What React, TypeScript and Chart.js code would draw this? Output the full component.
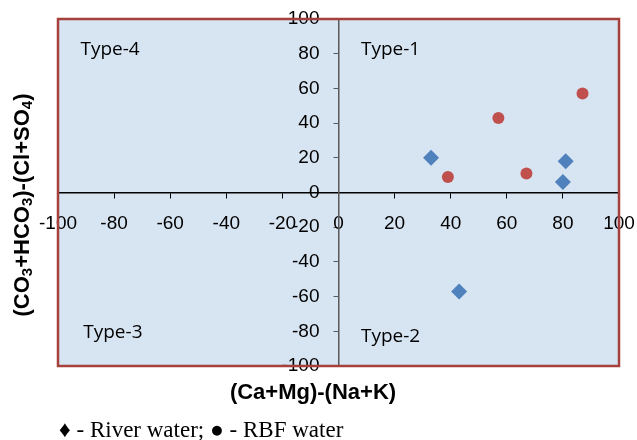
import React, { useEffect, useRef } from "react";
import { Chart, registerables } from "chart.js";

Chart.register(...registerables);

const riverX = [33, 81, 80, 43];
const riverY = [20, 18, 6, -57];
const rbfX = [39, 57, 67, 87];
const rbfY = [9, 43, 11, 57];
const axisMin = -100;
const axisMax = 100;
const axisStep = 20;
const xTitle = "(Ca+Mg)-(Na+K)";
const yTitleParts: { t: string; sub?: boolean }[] = [
  { t: "(CO" },
  { t: "3", sub: true },
  { t: "+HCO" },
  { t: "3", sub: true },
  { t: ")-(Cl+SO" },
  { t: "4", sub: true },
  { t: ")" },
];
const typeLabels = [
  { text: "Type-4", x: -92, y: 79 },
  { text: "Type-1", x: 8, y: 79 },
  { text: "Type-3", x: -91, y: -84 },
  { text: "Type-2", x: 8, y: -86 },
];
const legendText = "\u2666 - River water; \u25CF - RBF water";

const BG = "#d7e4f2";
const BORDER = "#a5403d";

const zeroPad = (s: any) => {
  s.paddingLeft = 0;
  s.paddingRight = 0;
  s.paddingTop = 0;
  s.paddingBottom = 0;
};

const decorPlugin = {
  id: "decor",
  afterLayout(chart: any) {
    const c = chart.scales.x.getPixelForValue(0);
    chart.scales.y.left = c - 70;
    chart.scales.y.right = c;
  },
  beforeDraw(chart: any) {
    const { ctx, chartArea: a } = chart;
    ctx.save();
    ctx.fillStyle = BG;
    ctx.fillRect(a.left, a.top, a.right - a.left, a.bottom - a.top);
    ctx.restore();
  },
  beforeDatasetsDraw(chart: any) {
    const { ctx, chartArea: a, scales } = chart;
    ctx.save();
    ctx.strokeStyle = BORDER;
    ctx.lineWidth = 2.5;
    ctx.strokeRect(a.left, a.top, a.right - a.left, a.bottom - a.top);
    ctx.fillStyle = "#000";
    ctx.font = "19px 'Open Sans'";
    ctx.textBaseline = "alphabetic";
    ctx.textAlign = "left";
    for (const l of typeLabels) {
      ctx.fillText(l.text, scales.x.getPixelForValue(l.x), scales.y.getPixelForValue(l.y));
    }
    ctx.restore();
  },
  afterDraw(chart: any) {
    const { ctx } = chart;
    ctx.save();
    ctx.fillStyle = "#000";
    ctx.font = "bold 22px 'Liberation Sans', Arial";
    ctx.textAlign = "center";
    ctx.textBaseline = "middle";
    ctx.fillText(xTitle, 313, 393);
    const mainFont = "bold 22px 'Liberation Sans', Arial";
    const subFont = "bold 15px 'Liberation Sans', Arial";
    let total = 0;
    for (const p of yTitleParts) {
      ctx.font = p.sub ? subFont : mainFont;
      total += ctx.measureText(p.t).width;
    }
    ctx.translate(23, 205);
    ctx.rotate(-Math.PI / 2);
    ctx.textAlign = "left";
    ctx.textBaseline = "middle";
    let cx = -total / 2;
    for (const p of yTitleParts) {
      ctx.font = p.sub ? subFont : mainFont;
      ctx.fillText(p.t, cx, p.sub ? 5 : 0);
      cx += ctx.measureText(p.t).width;
    }
    ctx.setTransform(1, 0, 0, 1, 0, 0);
    ctx.font = "23px 'Liberation Serif', 'Times New Roman', serif";
    ctx.textAlign = "left";
    ctx.textBaseline = "alphabetic";
    ctx.fillText(legendText, 59, 437);
    ctx.restore();
  },
};

export default function App() {
  const ref = useRef<HTMLCanvasElement>(null);
  useEffect(() => {
    if (!ref.current) return;
    const tickFont = { family: "'Liberation Sans', Arial", size: 19 };
    const chart = new Chart(ref.current, {
      type: "scatter",
      data: {
        datasets: [
          {
            label: "River water",
            data: riverX.map((x, i) => ({ x, y: riverY[i] })),
            pointStyle: "rectRot",
            pointRadius: 8,
            backgroundColor: "#4f81bd",
            borderColor: "#4f81bd",
            borderWidth: 0,
          },
          {
            label: "RBF water",
            data: rbfX.map((x, i) => ({ x, y: rbfY[i] })),
            pointStyle: "circle",
            pointRadius: 6,
            backgroundColor: "#c0504d",
            borderColor: "#c0504d",
            borderWidth: 0,
          },
        ],
      },
      options: {
        responsive: false,
        animation: false,
        layout: { padding: { left: 58, top: 19, right: 18, bottom: 74 } },
        plugins: { legend: { display: false }, tooltip: { enabled: false } },
        scales: {
          x: {
            type: "linear",
            min: axisMin,
            max: axisMax,
            position: { y: 0 } as any,
            afterFit: (s: any) => {
              s.height = 0;
              zeroPad(s);
            },
            ticks: { stepSize: axisStep, font: tickFont, color: "#000", padding: 15 },
            grid: { drawOnChartArea: false, drawTicks: true, tickLength: 5, color: "#000" },
            border: { display: true, color: "#000", width: 1.5 },
          },
          y: {
            type: "linear",
            min: axisMin,
            max: axisMax,
            position: "left",
            afterFit: (s: any) => {
              s.width = 0;
              zeroPad(s);
            },
            ticks: { stepSize: axisStep, font: tickFont, color: "#000", padding: 14 },
            grid: { drawOnChartArea: false, drawTicks: true, tickLength: 5, color: "#595959" },
            border: { display: true, color: "#595959", width: 1.5 },
          },
        },
      },
      plugins: [decorPlugin],
    });
    return () => chart.destroy();
  }, []);
  return (
    <div style={{ position: "absolute", left: 0, top: 0, width: 637, height: 440, background: "#fff" }}>
      <canvas ref={ref} width={637} height={440} style={{ display: "block" }} />
    </div>
  );
}
